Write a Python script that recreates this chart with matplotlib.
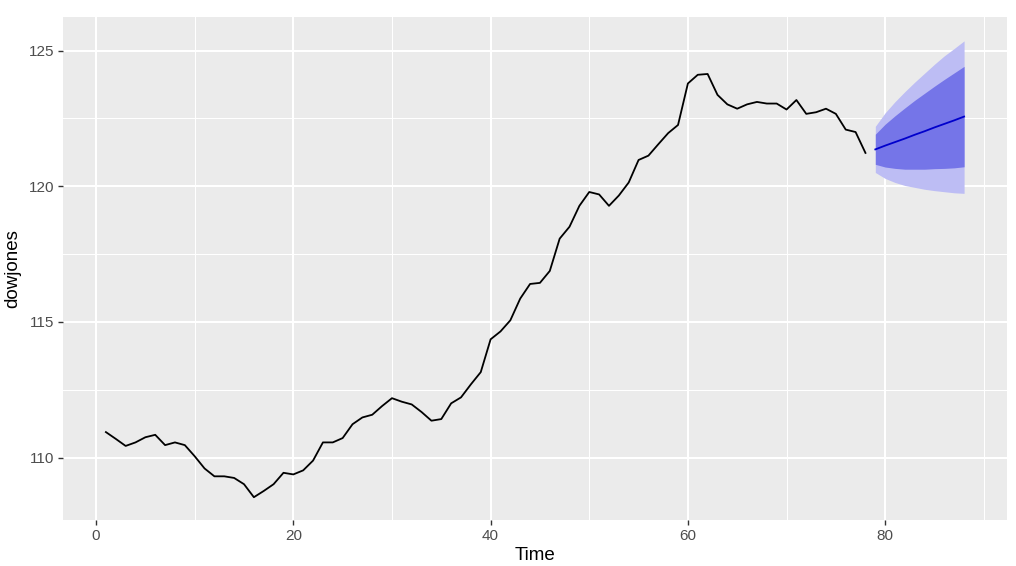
import matplotlib
matplotlib.use("Agg")
import matplotlib.pyplot as plt
import numpy as np

plt.rcParams['font.family'] = ['Liberation Sans', 'DejaVu Sans']

dowjones = [110.94, 110.69, 110.43, 110.56, 110.75, 110.84, 110.46, 110.56, 110.46, 110.05,
            109.60, 109.31, 109.31, 109.25, 109.02, 108.54, 108.77, 109.02, 109.44, 109.38,
            109.53, 109.89, 110.56, 110.56, 110.72, 111.23, 111.48, 111.58, 111.90, 112.19,
            112.06, 111.96, 111.68, 111.36, 111.42, 112.00, 112.22, 112.70, 113.15, 114.36,
            114.65, 115.06, 115.86, 116.40, 116.44, 116.88, 118.07, 118.51, 119.28, 119.79,
            119.70, 119.28, 119.66, 120.14, 120.97, 121.13, 121.55, 121.96, 122.26, 123.79,
            124.11, 124.14, 123.37, 123.02, 122.86, 123.02, 123.11, 123.05, 123.05, 122.83,
            123.18, 122.67, 122.73, 122.86, 122.67, 122.09, 122.00, 121.23]
time = list(range(1, len(dowjones) + 1))

fc_time = list(range(79, 89))
fc_mean = [121.36, 121.50, 121.63, 121.76, 121.90, 122.03, 122.17, 122.30, 122.43, 122.57]
lo80 = [120.81, 120.71, 120.66, 120.63, 120.63, 120.63, 120.65, 120.66, 120.68, 120.72]
hi80 = [121.92, 122.29, 122.60, 122.89, 123.17, 123.43, 123.69, 123.94, 124.18, 124.42]
lo95 = [120.51, 120.29, 120.14, 120.03, 119.96, 119.89, 119.84, 119.80, 119.76, 119.74]
hi95 = [122.21, 122.71, 123.12, 123.49, 123.84, 124.17, 124.50, 124.81, 125.08, 125.36]

fig = plt.figure(figsize=(10.16, 5.66), dpi=100)
ax = fig.add_axes([63/1016, 1-520/566, (1007-63)/1016, (520-17)/566])
ax.set_facecolor('#EBEBEB')
for s in ax.spines.values():
    s.set_visible(False)

ax.set_xlim(-3.35, 92.35)
ax.set_ylim(107.70, 126.24)
ax.set_xticks([0, 20, 40, 60, 80])
ax.set_xticks([10, 30, 50, 70, 90], minor=True)
ax.set_yticks([110, 115, 120, 125])
ax.set_yticks([112.5, 117.5, 122.5], minor=True)
ax.grid(which='major', color='white', linewidth=1.45)
ax.grid(which='minor', color='white', linewidth=0.72)
ax.set_axisbelow(True)
ax.tick_params(which='major', length=3.5, width=1.0, color='#333333', labelcolor='#4D4D4D', labelsize=11, pad=3)
ax.tick_params(which='minor', length=0)

ax.fill_between(fc_time, lo95, hi95, color='#BDBDF4', linewidth=0, zorder=2)
ax.fill_between(fc_time, lo80, hi80, color='#7575E8', linewidth=0, zorder=3)
ax.plot(fc_time, fc_mean, color='#0000CC', linewidth=1.3, zorder=4)
ax.plot(time, dowjones, color='black', linewidth=1.3, zorder=4)

ax.set_xlabel('Time', fontsize=13.5, labelpad=3)
ax.set_ylabel('dowjones', fontsize=13.5, labelpad=5)

fig.savefig('out.png', dpi=100)
